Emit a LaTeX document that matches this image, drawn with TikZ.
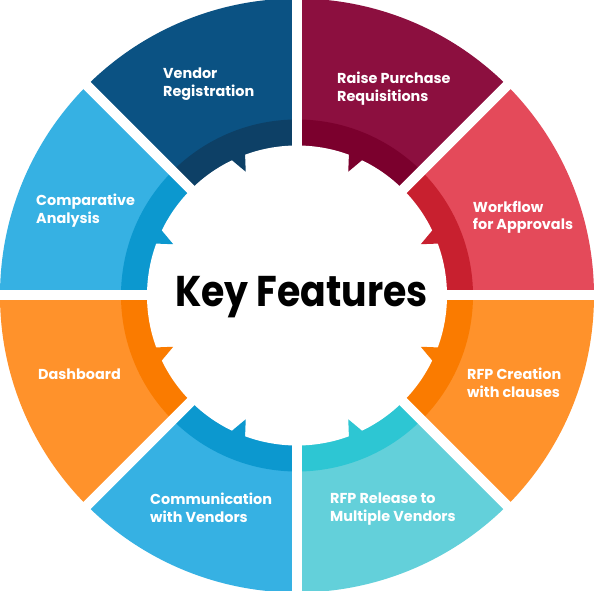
\documentclass[tikz,border=0pt]{standalone}
\usepackage{fontspec}
\setmainfont{Poppins}
\newfontfamily\kftitlefont[FakeStretch=0.88]{Poppins}
\usepackage{tikz}
\usetikzlibrary{positioning}
\definecolor{kfVendorLt}{HTML}{0B5283}
\definecolor{kfVendorDk}{HTML}{0D4066}
\definecolor{kfRaiseLt}{HTML}{8C0F3F}
\definecolor{kfRaiseDk}{HTML}{7B002D}
\definecolor{kfFlowLt}{HTML}{E44A5A}
\definecolor{kfFlowDk}{HTML}{C8202F}
\definecolor{kfOrangeLt}{HTML}{FF922B}
\definecolor{kfOrangeDk}{HTML}{FA7B00}
\definecolor{kfTealLt}{HTML}{63D0DA}
\definecolor{kfTealDk}{HTML}{2DC6D3}
\definecolor{kfSkyLt}{HTML}{36B1E3}
\definecolor{kfSkyDk}{HTML}{0C98CF}
\tikzset{
  featlabel/.style={
    text=white,
    align=left,
    anchor=north west,
    inner sep=0pt,
    font=\bfseries\fontsize{14.4}{17.8}\selectfont
  },
  titlelabel/.style={
    text=black,
    anchor=base,
    inner sep=0pt,
    font=\kftitlefont\bfseries\fontsize{43}{50}\selectfont
  },
  gapline/.style={draw=white, line width=10pt}
}

\begin{document}
\begin{tikzpicture}[x=1pt, y=1pt]
  \useasboundingbox (-297,-295.5) rectangle (297,295.5);
  \fill[white] (-297,-295.5) rectangle (297,295.5);

  % outer segments
  \fill[kfFlowLt] (0,0) -- (0:297pt) arc[start angle=0, end angle=45, radius=297pt] -- cycle;
  \fill[kfRaiseLt] (0,0) -- (45:297pt) arc[start angle=45, end angle=90, radius=297pt] -- cycle;
  \fill[kfVendorLt] (0,0) -- (90:297pt) arc[start angle=90, end angle=135, radius=297pt] -- cycle;
  \fill[kfSkyLt] (0,0) -- (135:297pt) arc[start angle=135, end angle=180, radius=297pt] -- cycle;
  \fill[kfOrangeLt] (0,0) -- (180:297pt) arc[start angle=180, end angle=225, radius=297pt] -- cycle;
  \fill[kfSkyLt] (0,0) -- (225:297pt) arc[start angle=225, end angle=270, radius=297pt] -- cycle;
  \fill[kfTealLt] (0,0) -- (270:297pt) arc[start angle=270, end angle=315, radius=297pt] -- cycle;
  \fill[kfOrangeLt] (0,0) -- (315:297pt) arc[start angle=315, end angle=360, radius=297pt] -- cycle;

  % darker inner band
  \fill[kfFlowDk] (0,0) -- (0:176pt) arc[start angle=0, end angle=45, radius=176pt] -- cycle;
  \fill[kfRaiseDk] (0,0) -- (45:176pt) arc[start angle=45, end angle=90, radius=176pt] -- cycle;
  \fill[kfVendorDk] (0,0) -- (90:176pt) arc[start angle=90, end angle=135, radius=176pt] -- cycle;
  \fill[kfSkyDk] (0,0) -- (135:176pt) arc[start angle=135, end angle=180, radius=176pt] -- cycle;
  \fill[kfOrangeDk] (0,0) -- (180:176pt) arc[start angle=180, end angle=225, radius=176pt] -- cycle;
  \fill[kfSkyDk] (0,0) -- (225:176pt) arc[start angle=225, end angle=270, radius=176pt] -- cycle;
  \fill[kfTealDk] (0,0) -- (270:176pt) arc[start angle=270, end angle=315, radius=176pt] -- cycle;
  \fill[kfOrangeDk] (0,0) -- (315:176pt) arc[start angle=315, end angle=360, radius=176pt] -- cycle;

  % white hub with teeth
  \fill[white] (0,0) circle[radius=150pt];
  \fill[kfFlowDk] (22.5:134pt) -- (20:152pt) -- (26:152pt) -- cycle;
  \fill[kfRaiseDk] (67.5:134pt) -- (70:152pt) -- (64:152pt) -- cycle;
  \fill[kfVendorDk] (112.5:134pt) -- (110:152pt) -- (116:152pt) -- cycle;
  \fill[kfSkyDk] (157.5:134pt) -- (160:152pt) -- (154:152pt) -- cycle;
  \fill[kfOrangeDk] (202.5:134pt) -- (200:152pt) -- (206:152pt) -- cycle;
  \fill[kfSkyDk] (247.5:134pt) -- (250:152pt) -- (244:152pt) -- cycle;
  \fill[kfTealDk] (292.5:134pt) -- (290:152pt) -- (296:152pt) -- cycle;
  \fill[kfOrangeDk] (337.5:134pt) -- (340:152pt) -- (334:152pt) -- cycle;

  % gaps between segments
  \draw[gapline] (0,0) -- (0:320pt);
  \draw[gapline] (0,0) -- (45:320pt);
  \draw[gapline] (0,0) -- (90:320pt);
  \draw[gapline] (0,0) -- (135:320pt);
  \draw[gapline] (0,0) -- (180:320pt);
  \draw[gapline] (0,0) -- (225:320pt);
  \draw[gapline] (0,0) -- (270:320pt);
  \draw[gapline] (0,0) -- (315:320pt);

  % labels
  \node[titlelabel] (title) at (4.5,-11.2) {Key Features};
  \node[featlabel] (vendor) at (-134,227.5) {Vendor\\Registration};
  \node[featlabel] (raise) at (40,223.8) {Raise Purchase\\Requisitions};
  \node[featlabel] (workflow) at (175.7,94.8) {Workflow\\for Approvals};
  \node[featlabel] (rfpCreation) at (170,-72.5) {RFP Creation\\with clauses};
  \node[featlabel] (rfpRelease) at (33,-197.2) {RFP Release to\\Multiple Vendors};
  \node[featlabel] (communication) at (-147,-197.2) {Communication\\with Vendors};
  \node[featlabel] (dashboard) at (-259,-73.5) {Dashboard};
  \node[featlabel] (comparative) at (-261,101.5) {Comparative\\Analysis};
\end{tikzpicture}
\end{document}
